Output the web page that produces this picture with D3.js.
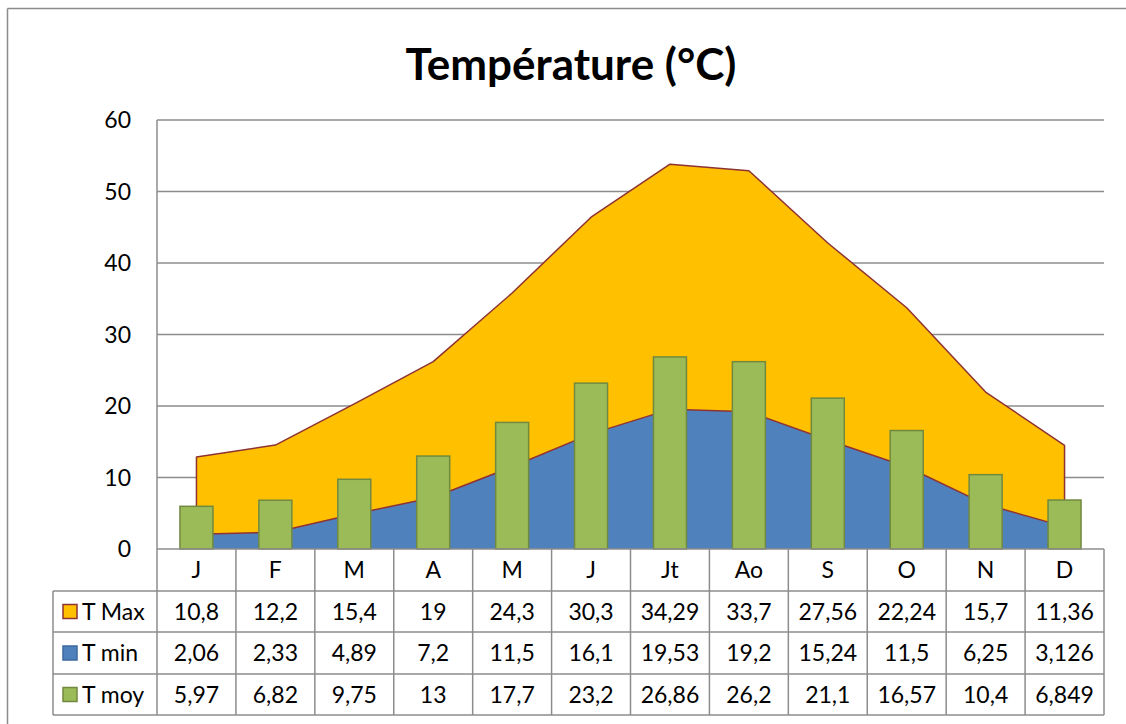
<!DOCTYPE html>
<html>
<head>
<meta charset="utf-8">
<script src="https://cdn.jsdelivr.net/npm/d3@7"></script>
<style>
  html, body { margin: 0; padding: 0; background: #fff; overflow: hidden; }
  svg { display: block; font-family: Lato, "Open Sans", sans-serif; }
</style>
</head>
<body>
<svg id="chart" width="1126" height="724"></svg>
<script>
// Monthly temperatures (°C)
const months = ["J", "F", "M", "A", "M", "J", "Jt", "Ao", "S", "O", "N", "D"];
const tMax = [10.8, 12.2, 15.4, 19, 24.3, 30.3, 34.29, 33.7, 27.56, 22.24, 15.7, 11.36];
const tMin = [2.06, 2.33, 4.89, 7.2, 11.5, 16.1, 19.53, 19.2, 15.24, 11.5, 6.25, 3.126];
const tMoy = [5.97, 6.82, 9.75, 13, 17.7, 23.2, 26.86, 26.2, 21.1, 16.57, 10.4, 6.849];
// Labels shown in the data table (as typed in the source sheet)
const tMaxText = ["10,8", "12,2", "15,4", "19", "24,3", "30,3", "34,29", "33,7", "27,56", "22,24", "15,7", "11,36"];
const tMinText = ["2,06", "2,33", "4,89", "7,2", "11,5", "16,1", "19,53", "19,2", "15,24", "11,5", "6,25", "3,126"];
const tMoyText = ["5,97", "6,82", "9,75", "13", "17,7", "23,2", "26,86", "26,2", "21,1", "16,57", "10,4", "6,849"];
const yTicks = [0, 10, 20, 30, 40, 50, 60];
const seriesNames = ["T Max", "T min", "T moy"];

const svg = d3.select("#chart");
const grid = "#8c8c8c";
const fs = 23;

// chart frame (top and left edges fall inside the view)
svg.append("line").attr("x1", 7.5).attr("x2", 1126).attr("y1", 8.5).attr("y2", 8.5)
  .attr("stroke", "#8c8c8c").attr("stroke-width", 1.5);
svg.append("line").attr("x1", 7.5).attr("x2", 7.5).attr("y1", 8.5).attr("y2", 724)
  .attr("stroke", "#8c8c8c").attr("stroke-width", 1.5);

// title
svg.append("text").attr("x", 571).attr("y", 80).attr("text-anchor", "middle")
  .attr("font-size", 44).attr("font-weight", "bold").attr("fill", "#000")
  .text("Température (°C)");

const plotLeft = 157, plotRight = 1104, plotTop = 120, plotBottom = 549;
const x = d3.scaleBand().domain(d3.range(months.length)).range([plotLeft, plotRight]).padding(0);
const y = d3.scaleLinear().domain([0, 60]).range([plotBottom, plotTop]);
const cx = i => x(i) + x.bandwidth() / 2;

// horizontal gridlines
svg.append("g").selectAll("line").data(yTicks.filter(d => d > 0)).join("line")
  .attr("x1", plotLeft).attr("x2", plotRight)
  .attr("y1", d => y(d)).attr("y2", d => y(d))
  .attr("stroke", grid).attr("stroke-width", 1.5);

// y axis labels
svg.append("g").selectAll("text").data(yTicks).join("text")
  .attr("x", 131).attr("y", d => y(d) + 8).attr("text-anchor", "end")
  .attr("font-size", fs).attr("fill", "#000").text(d => d);

// stacked areas: T min at the bottom, T Max stacked above it
const stackData = months.map((m, i) => ({ i, min: tMin[i], max: tMax[i] }));
const stacked = d3.stack().keys(["min", "max"])(stackData);

const area = d3.area()
  .x(d => cx(d.data.i))
  .y0(d => y(d[0]))
  .y1(d => y(d[1]));

svg.append("path").datum(stacked[0]).attr("d", area)
  .attr("fill", "#4f81bd");
svg.append("path").datum(stacked[1]).attr("d", area)
  .attr("fill", "#ffc000").attr("stroke", "#8e3232").attr("stroke-width", 1.5)
  .attr("stroke-linejoin", "round");

// T moy bars
const barW = 33;
svg.append("g").selectAll("rect").data(tMoy).join("rect")
  .attr("x", (d, i) => cx(i) - barW / 2)
  .attr("y", d => y(d))
  .attr("width", barW)
  .attr("height", d => y(0) - y(d))
  .attr("fill", "#9bbb59").attr("stroke", "#71893f").attr("stroke-width", 1.5);

// y axis line
svg.append("line").attr("x1", plotLeft).attr("x2", plotLeft).attr("y1", plotTop).attr("y2", plotBottom)
  .attr("stroke", grid).attr("stroke-width", 1.5);

// data table
const rowEdges = [549, 591, 632, 674, 715];
const legendLeft = 53;
const tg = svg.append("g");

// horizontal lines
rowEdges.forEach((ry, k) => {
  tg.append("line").attr("x1", k === 0 ? plotLeft : legendLeft).attr("x2", plotRight)
    .attr("y1", ry).attr("y2", ry).attr("stroke", grid).attr("stroke-width", 1.5);
});
// vertical lines
d3.range(months.length + 1).forEach(i => {
  const vx = i < months.length ? x(i) : plotRight;
  tg.append("line").attr("x1", vx).attr("x2", vx).attr("y1", rowEdges[0]).attr("y2", rowEdges[4])
    .attr("stroke", grid).attr("stroke-width", 1.5);
});
tg.append("line").attr("x1", legendLeft).attr("x2", legendLeft)
  .attr("y1", rowEdges[1]).attr("y2", rowEdges[4]).attr("stroke", grid).attr("stroke-width", 1.5);

const rowMid = k => (rowEdges[k] + rowEdges[k + 1]) / 2 + 8;
// month headers
tg.append("g").selectAll("text").data(months).join("text")
  .attr("x", (d, i) => cx(i)).attr("y", rowMid(0)).attr("text-anchor", "middle")
  .attr("font-size", fs).attr("fill", "#000").text(d => d);

[tMaxText, tMinText, tMoyText].forEach((row, k) => {
  tg.append("g").selectAll("text").data(row).join("text")
    .attr("x", (d, i) => cx(i)).attr("y", rowMid(k + 1)).attr("text-anchor", "middle")
    .attr("font-size", fs).attr("fill", "#000").text(d => d);
});

// legend keys inside the table
const keyFill = ["#ffc000", "#4f81bd", "#9bbb59"];
const keyStroke = ["#8e3232", "#3d6a9f", "#71893f"];
seriesNames.forEach((name, k) => {
  const my = (rowEdges[k + 1] + rowEdges[k + 2]) / 2;
  tg.append("rect").attr("x", 63).attr("y", my - 7).attr("width", 14).attr("height", 14)
    .attr("fill", keyFill[k]).attr("stroke", keyStroke[k]).attr("stroke-width", 1.5);
  tg.append("text").attr("x", 82).attr("y", my + 8).attr("font-size", fs)
    .attr("fill", "#000").text(name);
});
</script>
</body>
</html>
